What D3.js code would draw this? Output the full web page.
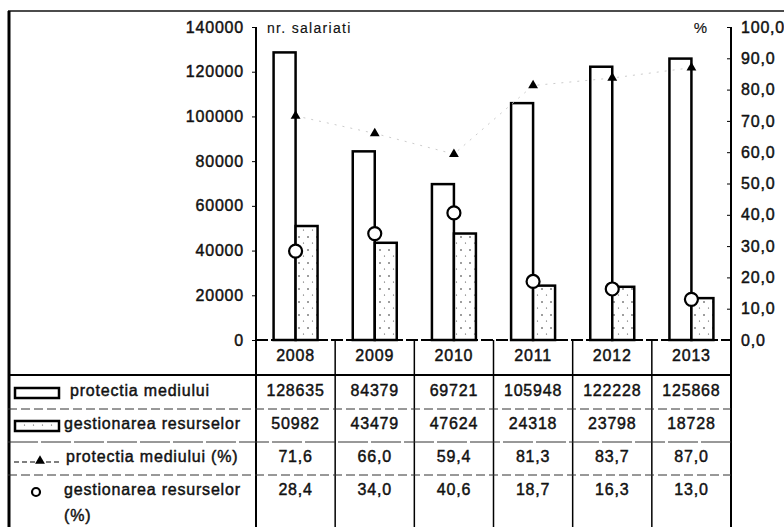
<!DOCTYPE html>
<html>
<head>
<meta charset="utf-8">
<script src="https://cdn.jsdelivr.net/npm/d3@7"></script>
<style>
body { margin: 0; background: #fff; }
svg text { font-family: 'Liberation Sans', Arial, sans-serif; font-size: 16px; letter-spacing: 0.8px; fill: #111; stroke: #111; stroke-width: 0.45px; }
svg text.unit { stroke-width: 0.15px; }
</style>
</head>
<body>
<div id="chart"></div>
<script>
var years = ['2008', '2009', '2010', '2011', '2012', '2013']
var protectia = [128635, 84379, 69721, 105948, 122228, 125868]
var gestionarea = [50982, 43479, 47624, 24318, 23798, 18728]
var protectiaPct = [71.6, 66.0, 59.4, 81.3, 83.7, 87.0]
var gestionareaPct = [28.4, 34.0, 40.6, 18.7, 16.3, 13.0]

var leftTicks = [0, 20000, 40000, 60000, 80000, 100000, 120000, 140000]
var rightTicks = [0, 10, 20, 30, 40, 50, 60, 70, 80, 90, 100]

var seriesLabels = ['protectia mediului', 'gestionarea resurselor', 'protectia mediului (%)', 'gestionarea resurselor (%)']

var data = years.map(function(d, i){
  return {year: d, p: protectia[i], g: gestionarea[i], pp: protectiaPct[i], gp: gestionareaPct[i]}
})

var fmtPct = function(v){ return d3.format('.1f')(v).replace('.', ',') }

var W = 784, H = 527
var axisL = 256, axisR = 731, base = 340, yTop = 27
var rowLines = [375, 409, 442, 475]
var rowMid = [392, 425, 458, 491]

var svg = d3.select('#chart').append('svg').attr('width', W).attr('height', H)

// stipple fill for the second bar series
var pat = svg.append('defs').append('pattern')
  .attr('id', 'dots').attr('patternUnits', 'userSpaceOnUse')
  .attr('width', 9).attr('height', 13)
pat.append('rect').attr('width', 9).attr('height', 13).attr('fill', '#fff')
pat.append('circle').attr('cx', 2).attr('cy', 3).attr('r', 0.8).attr('fill', '#222')
pat.append('circle').attr('cx', 6.5).attr('cy', 9).attr('r', 0.6).attr('fill', '#444')

var x = d3.scaleBand().domain(years).range([axisL, axisR])
var xs = d3.scaleBand().domain(['p', 'g']).range([0, x.bandwidth()]).paddingOuter(0.8)
var y = d3.scaleLinear().domain([0, 140000]).range([base, yTop])
var y2 = d3.scaleLinear().domain([0, 100]).range([base, yTop])
var cx = function(d){ return x(d.year) + x.bandwidth() / 2 }

// frame
svg.append('line').attr('x1', 8).attr('x2', W).attr('y1', 11).attr('y2', 11)
  .attr('stroke', '#111').attr('stroke-width', 1.5)
svg.append('line').attr('x1', 9).attr('x2', 9).attr('y1', 11).attr('y2', H)
  .attr('stroke', '#000').attr('stroke-width', 3)

// bars
svg.selectAll('rect.prot').data(data).enter().append('rect')
  .attr('class', 'prot')
  .attr('x', function(d){ return x(d.year) + xs('p') })
  .attr('y', function(d){ return y(d.p) })
  .attr('width', xs.bandwidth())
  .attr('height', function(d){ return y(0) - y(d.p) })
  .attr('fill', '#fff').attr('stroke', '#000').attr('stroke-width', 2.5)

svg.selectAll('rect.gest').data(data).enter().append('rect')
  .attr('class', 'gest')
  .attr('x', function(d){ return x(d.year) + xs('g') })
  .attr('y', function(d){ return y(d.g) })
  .attr('width', xs.bandwidth())
  .attr('height', function(d){ return y(0) - y(d.g) })
  .attr('fill', 'url(#dots)').attr('stroke', '#000').attr('stroke-width', 2.5)

// baseline
svg.append('line').attr('x1', axisL).attr('x2', axisR).attr('y1', base).attr('y2', base)
  .attr('stroke', '#000').attr('stroke-width', 2).attr('stroke-dasharray', '12,3')

// left axis
var gl = svg.append('g').attr('transform', 'translate(' + axisL + ',0)')
  .call(d3.axisLeft(y).tickValues(leftTicks).tickSize(4).tickPadding(8).tickFormat(d3.format('d')))
gl.select('.domain').remove()
gl.selectAll('text').attr('font-size', null).attr('font-family', null)

var gr = svg.append('g').attr('transform', 'translate(' + axisR + ',0)')
  .call(d3.axisRight(y2).tickValues(rightTicks).tickSize(-4).tickPadding(10).tickFormat(fmtPct))
gr.select('.domain').remove()
gr.selectAll('text').attr('font-size', null).attr('font-family', null)

// axis lines run down through the table
;[axisL, axisR].forEach(function(ax){
  svg.append('line').attr('x1', ax).attr('x2', ax).attr('y1', yTop).attr('y2', H)
    .attr('stroke', '#000').attr('stroke-width', 2)
})

svg.append('text').attr('class', 'unit').attr('x', 267).attr('y', 29).attr('dominant-baseline', 'middle')
  .style('font-size', '14px').style('letter-spacing', '1.3px').text('nr. salariati')
svg.append('text').attr('class', 'unit').attr('x', 708).attr('y', 29).attr('dominant-baseline', 'middle')
  .attr('text-anchor', 'end').style('font-size', '15px').text('%')

// protectia (%) line (very faint in the source) + triangles
var line = d3.line().x(cx).y(function(d){ return y2(d.pp) })
svg.append('path').attr('d', line(data)).attr('fill', 'none')
  .attr('stroke', '#ccc').attr('stroke-width', 1).attr('stroke-dasharray', '2,6')

var tri = d3.symbol().type(d3.symbolTriangle).size(42)
svg.selectAll('path.tri').data(data).enter().append('path')
  .attr('class', 'tri').attr('d', tri)
  .attr('transform', function(d){ return 'translate(' + cx(d) + ',' + y2(d.pp) + ')' })
  .attr('fill', '#000')

// gestionarea (%) circles
svg.selectAll('circle.gp').data(data).enter().append('circle')
  .attr('class', 'gp')
  .attr('cx', cx).attr('cy', function(d){ return y2(d.gp) })
  .attr('r', 6.5).attr('fill', '#fff').attr('stroke', '#000').attr('stroke-width', 2.2)

// table grid
svg.selectAll('line.vcol').data(years.slice(1)).enter().append('line')
  .attr('class', 'vcol')
  .attr('x1', function(d){ return x(d) }).attr('x2', function(d){ return x(d) })
  .attr('y1', base).attr('y2', H)
  .attr('stroke', '#000').attr('stroke-width', 1.5)

svg.selectAll('line.hrow').data(rowLines).enter().append('line')
  .attr('class', 'hrow')
  .attr('x1', 8).attr('x2', axisR)
  .attr('y1', function(d){ return d }).attr('y2', function(d){ return d })
  .attr('stroke', function(d, i){ return i == 0 ? '#000' : '#333' })
  .attr('stroke-width', function(d, i){ return i == 0 ? 2 : 1 })
  .attr('stroke-dasharray', function(d, i){ return i == 0 ? null : (i == 2 ? '30,3' : '9,4') })

// year row
svg.selectAll('text.yr').data(years).enter().append('text')
  .attr('class', 'yr')
  .attr('x', function(d){ return x(d) + x.bandwidth() / 2 }).attr('y', 357)
  .attr('text-anchor', 'middle').attr('dominant-baseline', 'middle')
  .text(function(d){ return d })

// table values
var tableVals = [
  protectia.map(String),
  gestionarea.map(String),
  protectiaPct.map(fmtPct),
  gestionareaPct.map(fmtPct)
]
tableVals.forEach(function(vals, r){
  svg.selectAll('text.v' + r).data(vals).enter().append('text')
    .attr('class', 'v' + r)
    .attr('x', function(d, i){ return x(years[i]) + x.bandwidth() / 2 })
    .attr('y', rowMid[r])
    .attr('text-anchor', 'middle').attr('dominant-baseline', 'middle')
    .text(function(d){ return d })
})

// legend keys + row labels
var labelX = [70, 64, 66, 64]
svg.append('rect').attr('x', 15).attr('y', 388).attr('width', 44).attr('height', 10)
  .attr('fill', '#fff').attr('stroke', '#000').attr('stroke-width', 2.5)
svg.append('rect').attr('x', 15).attr('y', 421).attr('width', 44).attr('height', 10)
  .attr('fill', 'url(#dots)').attr('stroke', '#000').attr('stroke-width', 2.5)
svg.append('line').attr('x1', 14).attr('x2', 60).attr('y1', 462).attr('y2', 462)
  .attr('stroke', '#000').attr('stroke-width', 1.2).attr('stroke-dasharray', '5,3')
svg.append('path').attr('d', tri).attr('transform', 'translate(40,461)').attr('fill', '#000')
svg.append('circle').attr('cx', 36).attr('cy', 492).attr('r', 4)
  .attr('fill', '#fff').attr('stroke', '#000').attr('stroke-width', 2.2)

seriesLabels.forEach(function(lbl, r){
  var t = svg.append('text').attr('x', labelX[r]).attr('y', rowMid[r]).attr('dominant-baseline', 'middle')
  if (r == 3){
    t.append('tspan').attr('x', labelX[r]).text('gestionarea resurselor')
    t.append('tspan').attr('x', labelX[r]).attr('dy', 26).text('(%)')
  } else {
    t.text(lbl)
  }
})
</script>
</body>
</html>
